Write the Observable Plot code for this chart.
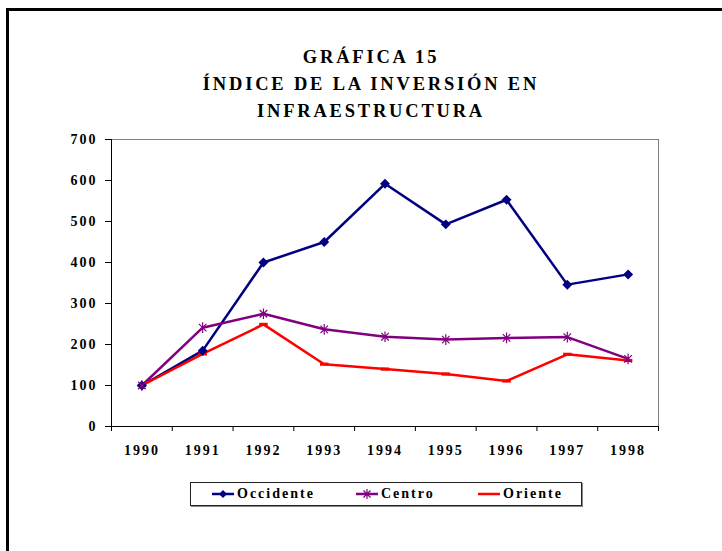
<!DOCTYPE html>
<html><head><meta charset="utf-8">
<script src="https://cdn.jsdelivr.net/npm/d3@7"></script>
<script src="https://cdn.jsdelivr.net/npm/@observablehq/plot@0.6"></script>
<style>
body{margin:0;background:#fff;}
#wrap{position:relative;width:722px;height:551px;overflow:hidden;font-family:"Liberation Serif","Times New Roman",serif;font-weight:bold;color:#000;}
#frame{position:absolute;left:6px;top:8px;width:800px;height:700px;border-left:3px solid #000;border-top:3px solid #000;}
#title{position:absolute;left:10px;width:722px;top:44px;text-align:center;font-size:18.5px;letter-spacing:2.8px;line-height:27px;}
#chart{position:absolute;left:0;top:0;}
#legend{position:absolute;left:190px;top:482px;width:390px;height:22px;border:1px solid #222;box-shadow:1px 1px 0 #888;background:#fff;font-size:14px;letter-spacing:2px;}
.item{position:absolute;top:0;height:22px;line-height:22px;display:flex;align-items:center;}
.item svg{margin-right:3px;}
</style></head>
<body><div id="wrap"><div id="frame"></div><div id="chart"></div><div id="title"></div><div id="legend"></div></div>
<script>
const years = [1990, 1991, 1992, 1993, 1994, 1995, 1996, 1997, 1998];
const occidente = [100, 185, 400, 450, 592, 493, 553, 346, 371];
const centro = [100, 241, 275, 237, 219, 212, 216, 218, 165];
const oriente = [100, 177, 249, 152, 140, 128, 111, 176, 161];
const yTicks = [0, 100, 200, 300, 400, 500, 600, 700];
const seriesNames = ["Occidente", "Centro", "Oriente"];
const seriesColors = ["#000080", "#800080", "#FF0000"];
const titleLines = ["GRÁFICA 15", "ÍNDICE DE LA INVERSIÓN EN", "INFRAESTRUCTURA"];

const rows = (vals, s) => years.map((y, i) => ({year: y, value: vals[i], serie: s}));
const occ = rows(occidente, seriesNames[0]);
const cen = rows(centro, seriesNames[1]);
const ori = rows(oriente, seriesNames[2]);
const all = occ.concat(cen, ori);
const bounds = years.map(y => y - 0.5).concat([years[years.length - 1] + 0.5]);

const star = {
  draw(ctx, size) {
    const r = Math.sqrt(size) * 0.6;
    const d = r * Math.SQRT1_2;
    ctx.moveTo(0, -r); ctx.lineTo(0, r);
    ctx.moveTo(-d, -d); ctx.lineTo(d, d);
    ctx.moveTo(-d, d); ctx.lineTo(d, -d);
  }
};
const dash = {
  draw(ctx, size) {
    const r = Math.sqrt(size) * 0.6;
    ctx.moveTo(-r, 0); ctx.lineTo(r, 0);
  }
};

const chart = Plot.plot({
  width: 722, height: 551,
  marginTop: 139, marginBottom: 125, marginLeft: 111, marginRight: 64,
  x: {domain: [1989.5, 1998.5]},
  y: {domain: [0, 700]},
  color: {domain: seriesNames, range: seriesColors},
  style: {fontFamily: "'Liberation Serif', 'Times New Roman', serif", fontWeight: "bold", fontSize: "14px", color: "#000", background: "transparent", letterSpacing: "2px"},
  marks: [
    Plot.frame({stroke: "#808080"}),
    Plot.axisY({ticks: yTicks, tickSize: 6, tickPadding: 8, tickFormat: d => String(d), label: null, stroke: "#000", strokeOpacity: 1}),
    Plot.axisX({ticks: years, tickSize: 0, tickPadding: 19, tickFormat: d => String(d), label: null}),
    Plot.axisX({ticks: bounds, tickSize: 5, tickFormat: () => "", label: null, stroke: "#000", strokeOpacity: 1}),
    Plot.ruleX([1989.5], {stroke: "#000"}),
    Plot.ruleY([0], {stroke: "#000"}),
    Plot.line(all, {x: "year", y: "value", z: "serie", stroke: "serie", strokeWidth: 2.5}),
    Plot.dot(ori, {x: "year", y: "value", symbol: dash, r: 4, stroke: seriesColors[2], strokeWidth: 3.2, fill: "none"}),
    Plot.dot(occ, {x: "year", y: "value", symbol: "diamond2", r: 4.5, fill: seriesColors[0], stroke: "none"}),
    Plot.dot(cen, {x: "year", y: "value", symbol: star, r: 5, stroke: seriesColors[1], strokeWidth: 1.2, fill: "none"})
  ]
});
document.getElementById("chart").appendChild(chart);

document.getElementById("title").innerHTML = titleLines.map(t => `<div>${t}</div>`).join("");

const legendPos = [21, 165, 287];
const legend = document.getElementById("legend");
seriesNames.forEach((name, i) => {
  const c = seriesColors[i];
  let marker = "";
  if (i === 0) marker = `<path d="M11,7 L15,11 L11,15 L7,11 Z" fill="${c}"/>`;
  if (i === 1) marker = `<path d="M11,6 V16 M7.5,7.5 L14.5,14.5 M7.5,14.5 L14.5,7.5" stroke="${c}" stroke-width="1.2"/>`;
  const it = document.createElement("div");
  it.className = "item";
  it.style.left = legendPos[i] + "px";
  it.innerHTML = `<svg width="22" height="22"><line x1="0" x2="22" y1="11" y2="11" stroke="${c}" stroke-width="2.5"/>${marker}</svg><span>${name}</span>`;
  legend.appendChild(it);
});
</script></body></html>
